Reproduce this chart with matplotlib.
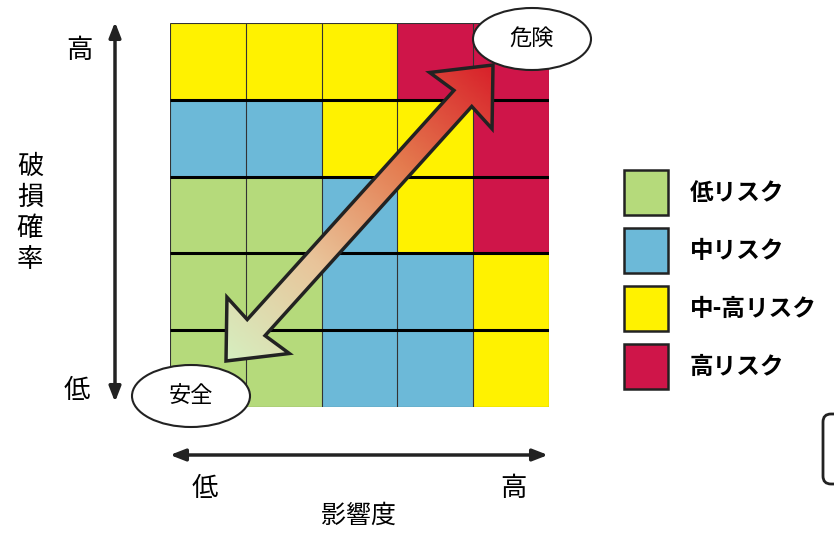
import numpy as np
import matplotlib
matplotlib.use('Agg')
import matplotlib.pyplot as plt
from matplotlib.colors import ListedColormap, LinearSegmentedColormap
from matplotlib.patches import Ellipse, Polygon, Rectangle, FancyBboxPatch

plt.rcParams['font.family'] = ['Noto Sans CJK JP', 'DejaVu Sans']

# risk levels and colours
levels = ['低リスク', '中リスク', '中-高リスク', '高リスク']
level_colors = ['#b5da7b', '#6cb9d8', '#fff200', '#cf1549']

# risk level per cell, rows from low to high probability, cols low to high impact
risk = [
  [0, 0, 1, 1, 2],
  [0, 0, 1, 1, 2],
  [0, 0, 1, 2, 3],
  [1, 1, 2, 2, 3],
  [2, 2, 2, 3, 3],
]

x_label = '影響度'
y_label = '破損確率'
low_high = ['低', '高']
ends = ['安全', '危険']

W, H = 834, 535
fig = plt.figure(figsize=(W / 100, H / 100), dpi=100)

# matrix axes (pixel box 170..549 x 23..407)
gx0, gx1, gy0, gy1 = 170, 549, 23, 407
ax = fig.add_axes([gx0 / W, 1 - gy1 / H, (gx1 - gx0) / W, (gy1 - gy0) / H])
cmap = ListedColormap(level_colors)
ax.pcolormesh(np.arange(6), np.arange(6), np.array(risk), cmap=cmap, vmin=-0.5, vmax=3.5)
ax.set_xlim(0, 5)
ax.set_ylim(0, 5)
ax.vlines(np.arange(6), 0, 5, color='#333333', lw=0.8)
ax.hlines([0, 5], 0, 5, color='#333333', lw=0.8)
ax.hlines(np.arange(1, 5), 0, 5, color='black', lw=2.2)
ax.set_axis_off()

# overlay in pixel coordinates
ov = fig.add_axes([0, 0, 1, 1], zorder=5)
ov.set_xlim(0, W)
ov.set_ylim(H, 0)
ov.set_axis_off()
ov.patch.set_alpha(0)

# gradient double arrow
p1 = np.array([226.0, 361.0])
p2 = np.array([493.0, 65.0])
L = np.linalg.norm(p2 - p1)
u = (p2 - p1) / L
n = np.array([-u[1], u[0]])
hl, hw, sw = 48, 42, 12
pts = [
  p2,
  p2 - hl * u + hw * n,
  p2 - (hl - 3) * u + sw * n,
  p1 + (hl - 3) * u + sw * n,
  p1 + hl * u + hw * n,
  p1,
  p1 + hl * u - hw * n,
  p1 + (hl - 3) * u - sw * n,
  p2 - (hl - 3) * u - sw * n,
  p2 - hl * u - hw * n,
]
poly = Polygon(pts, closed=True, facecolor='none', edgecolor='#222222', lw=2.5, zorder=4)
ov.add_patch(poly)
xs = np.linspace(180, 540, 300)
ys = np.linspace(20, 410, 300)
XX, YY = np.meshgrid(xs, ys)
T = ((XX - p1[0]) * u[0] + (YY - p1[1]) * u[1]) / L
grad = LinearSegmentedColormap.from_list('g', ['#d6efc0', '#e9c49a', '#e47a4e', '#d8202a'])
im = ov.imshow(T, extent=(180, 540, 410, 20), origin='upper', cmap=grad, vmin=0, vmax=1,
               aspect='auto', zorder=3)
im.set_clip_path(poly)
ov.set_xlim(0, W)
ov.set_ylim(H, 0)

# end ellipses
for (cx, cy), txt in zip([(191, 396), (532, 39)], ends):
  ov.add_patch(Ellipse((cx, cy), 118, 62, facecolor='white', edgecolor='#222222', lw=1.5, zorder=6))
  ov.text(cx, cy - 1, txt, ha='center', va='center', fontsize=16, zorder=7)

# axis arrows
arrow_kw = dict(arrowstyle='<|-|>,head_length=0.9,head_width=0.35', color='#222222', lw=2.5,
                shrinkA=0, shrinkB=0)
ov.annotate('', xy=(115, 22), xytext=(115, 402), arrowprops=arrow_kw)
ov.annotate('', xy=(548, 455), xytext=(170, 455), arrowprops=arrow_kw)

ov.text(79, 50, low_high[1], ha='center', va='center', fontsize=19)
ov.text(77, 391, low_high[0], ha='center', va='center', fontsize=19)
ov.text(30, 213, '\n'.join(y_label), ha='center', va='center', fontsize=19, linespacing=1.2)
ov.text(205, 489, low_high[0], ha='center', va='center', fontsize=19)
ov.text(513, 488, low_high[1], ha='center', va='center', fontsize=19)
ov.text(359, 516, x_label, ha='center', va='center', fontsize=18)

# legend
for i, (lab, col) in enumerate(zip(levels, level_colors)):
  y = 170 + i * 58
  ov.add_patch(Rectangle((624, y), 44, 45, facecolor=col, edgecolor='#222222', lw=1.8))
  ov.text(690, y + 23, lab, ha='left', va='center', fontsize=17, fontweight='bold')

# cut-off box at right edge
ov.add_patch(FancyBboxPatch((823, 414), 40, 70, boxstyle='round,pad=0,rounding_size=8',
                            facecolor='white', edgecolor='#222222', lw=2))

fig.savefig('out.png', dpi=100)
